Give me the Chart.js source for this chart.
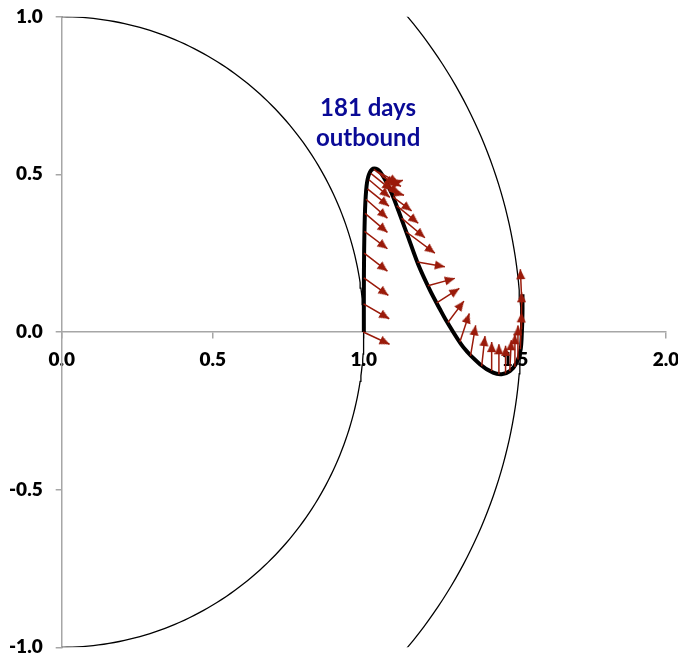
<!DOCTYPE html>
<html><head><meta charset="utf-8">
<script src="https://cdn.jsdelivr.net/npm/chart.js@4.4.1/dist/chart.umd.min.js"></script>
<style>html,body{margin:0;padding:0;background:#fff;} canvas{display:block;}</style>
</head><body>
<canvas id="c" width="678" height="658"></canvas>
<script>
// ---- data ----
const xTickLabels = ['0.0', '0.5', '1.0', '1.5', '2.0'];
const yTickLabels = ['-1.0', '-0.5', '0.0', '0.5', '1.0'];
const orbitRadii = [1.0, 1.52];           // Earth, Mars (AU)
const annotationLines = ['181 days', 'outbound'];

const trajX = [1.000, 1.000, 1.001, 1.004, 1.009, 1.017, 1.031, 1.048, 1.070, 1.092, 1.114, 1.147, 1.180, 1.219, 1.252, 1.274, 1.329, 1.384, 1.428, 1.456, 1.483, 1.506, 1.519, 1.523, 1.525, 1.525];
const trajY = [0.000, 0.130, 0.262, 0.389, 0.463, 0.500, 0.518, 0.514, 0.484, 0.440, 0.386, 0.300, 0.214, 0.132, 0.072, 0.034, -0.048, -0.102, -0.129, -0.134, -0.124, -0.097, -0.055, 0.000, 0.060, 0.120];

const arrowStartX = [0.998, 0.999, 1.000, 1.001, 1.002, 1.004, 1.007, 1.012, 1.017, 1.023, 1.033, 1.047, 1.060, 1.070, 1.075, 1.083, 1.097, 1.109, 1.125, 1.140, 1.177, 1.212, 1.241, 1.278, 1.318, 1.353, 1.390, 1.423, 1.447, 1.470, 1.483, 1.498, 1.510, 1.518, 1.522, 1.523];
const arrowStartY = [0.000, 0.089, 0.172, 0.250, 0.319, 0.376, 0.421, 0.454, 0.483, 0.503, 0.516, 0.508, 0.494, 0.478, 0.465, 0.448, 0.428, 0.400, 0.361, 0.318, 0.222, 0.147, 0.092, 0.030, -0.031, -0.076, -0.108, -0.124, -0.134, -0.129, -0.124, -0.109, -0.087, -0.055, 0.009, 0.088];
const arrowEndX = [1.085, 1.084, 1.081, 1.078, 1.078, 1.078, 1.078, 1.083, 1.086, 1.093, 1.103, 1.116, 1.123, 1.114, 1.129, 1.133, 1.158, 1.180, 1.202, 1.235, 1.268, 1.301, 1.316, 1.331, 1.349, 1.370, 1.401, 1.423, 1.447, 1.469, 1.488, 1.500, 1.510, 1.522, 1.522, 1.518];
const arrowEndY = [-0.039, 0.042, 0.116, 0.193, 0.264, 0.316, 0.361, 0.399, 0.427, 0.449, 0.465, 0.472, 0.462, 0.437, 0.481, 0.434, 0.384, 0.345, 0.299, 0.250, 0.207, 0.170, 0.138, 0.098, 0.059, 0.021, -0.013, -0.032, -0.039, -0.044, -0.026, -0.007, 0.021, 0.062, 0.126, 0.199];

// ---- build library tables ----
const ARROW_COLOR = '#9A1A0A';
const AXIS_COLOR = '#A6A6A6';

function orbitPoints(r) {
  const pts = [];
  for (let a = -90; a <= 90; a += 1) {
    const t = a * Math.PI / 180;
    pts.push({ x: r * Math.cos(t), y: r * Math.sin(t) });
  }
  return pts;
}
const trajPts = trajX.map((x, i) => ({ x, y: trajY[i] }));
const shaftPts = [];
arrowStartX.forEach((sx, i) => {
  shaftPts.push({ x: sx, y: arrowStartY[i] });
  shaftPts.push({ x: arrowEndX[i], y: arrowEndY[i] });
  shaftPts.push({ x: arrowEndX[i], y: null });
});
const headPts = arrowEndX.map((x, i) => ({ x, y: arrowEndY[i] }));

// arrowhead image: apex at the image centre, body trailing behind
const head = document.createElement('canvas');
head.width = 9; head.height = 22;
(function () {
  const g = head.getContext('2d');
  g.fillStyle = ARROW_COLOR;
  g.beginPath();
  g.moveTo(4.5, 11);
  g.lineTo(9, 21);
  g.lineTo(0, 21);
  g.closePath();
  g.fill();
})();

const annotationPlugin = {
  id: 'annot',
  afterDatasetsDraw(chart, args, opts) {
    const { ctx, scales } = chart;
    const px = scales.x.getPixelForValue(opts.x);
    const py = scales.y.getPixelForValue(opts.y);
    ctx.save();
    ctx.font = 'bold 24px Lato';
    ctx.fillStyle = opts.color;
    ctx.textAlign = 'center';
    ctx.textBaseline = 'alphabetic';
    annotationLines.forEach((t, i) => ctx.fillText(t, px, py + i * opts.lineGap));
    ctx.restore();
  }
};

const tickFont = { family: 'Lato', size: 19, weight: '800' };

new Chart(document.getElementById('c'), {
  type: 'scatter',
  data: {
    datasets: [
      {
        label: 'heads', data: headPts, showLine: false,
        pointStyle: head, pointRadius: 5, pointHoverRadius: 5,
        rotation: (c) => {
          const ch = c.chart, i = c.dataIndex;
          if (!ch.scales || !ch.scales.x) return 0;
          const dx = ch.scales.x.getPixelForValue(arrowEndX[i]) - ch.scales.x.getPixelForValue(arrowStartX[i]);
          const dy = ch.scales.y.getPixelForValue(arrowEndY[i]) - ch.scales.y.getPixelForValue(arrowStartY[i]);
          return Math.atan2(dx, -dy) * 180 / Math.PI;
        }
      },
      {
        label: 'shafts', data: shaftPts, showLine: true, spanGaps: false,
        borderColor: ARROW_COLOR, borderWidth: 1.5, pointRadius: 0, tension: 0
      },
      {
        label: 'trajectory', data: trajPts, showLine: true,
        borderColor: '#000', borderWidth: 4, pointRadius: 0, tension: 0.3,
        borderJoinStyle: 'round'
      },
      {
        label: 'earth', data: orbitPoints(orbitRadii[0]), showLine: true,
        borderColor: '#000', borderWidth: 1.3, pointRadius: 0, tension: 0
      },
      {
        label: 'mars', data: orbitPoints(orbitRadii[1]), showLine: true,
        borderColor: '#000', borderWidth: 1.3, pointRadius: 0, tension: 0
      }
    ]
  },
  options: {
    responsive: false,
    animation: false,
    devicePixelRatio: 1,
    layout: { padding: { left: 0, right: 12, top: 16.7, bottom: 10.7 } },
    plugins: {
      legend: { display: false },
      tooltip: { enabled: false },
      annot: { x: 1.014, y: 0.684, lineGap: 30, color: '#0A0A96' }
    },
    scales: {
      x: {
        type: 'linear', position: { y: 0 }, min: 0, max: 2,
        ticks: { stepSize: 0.5, maxRotation: 0, autoSkip: false, color: '#000', font: tickFont, padding: 10,
          callback: (v, i) => xTickLabels[i] },
        grid: { drawOnChartArea: false, drawTicks: true, tickLength: 6, color: AXIS_COLOR, lineWidth: 1.5 },
        border: { display: true, color: AXIS_COLOR, width: 1.5 },
        afterFit: (s) => { s.paddingLeft = 0; s.paddingRight = 0; }
      },
      y: {
        type: 'linear', position: 'left', min: -1, max: 1,
        ticks: { stepSize: 0.5, color: '#000', font: tickFont, padding: 13,
          callback: (v, i) => yTickLabels[i] },
        grid: { drawOnChartArea: false, drawTicks: true, tickLength: 6, color: AXIS_COLOR, lineWidth: 1.5 },
        border: { display: true, color: AXIS_COLOR, width: 1.5 },
        afterFit: (s) => { s.width = 61.7; s.paddingTop = 0; s.paddingBottom = 0; }
      }
    }
  },
  plugins: [annotationPlugin]
});
</script>
</body></html>
